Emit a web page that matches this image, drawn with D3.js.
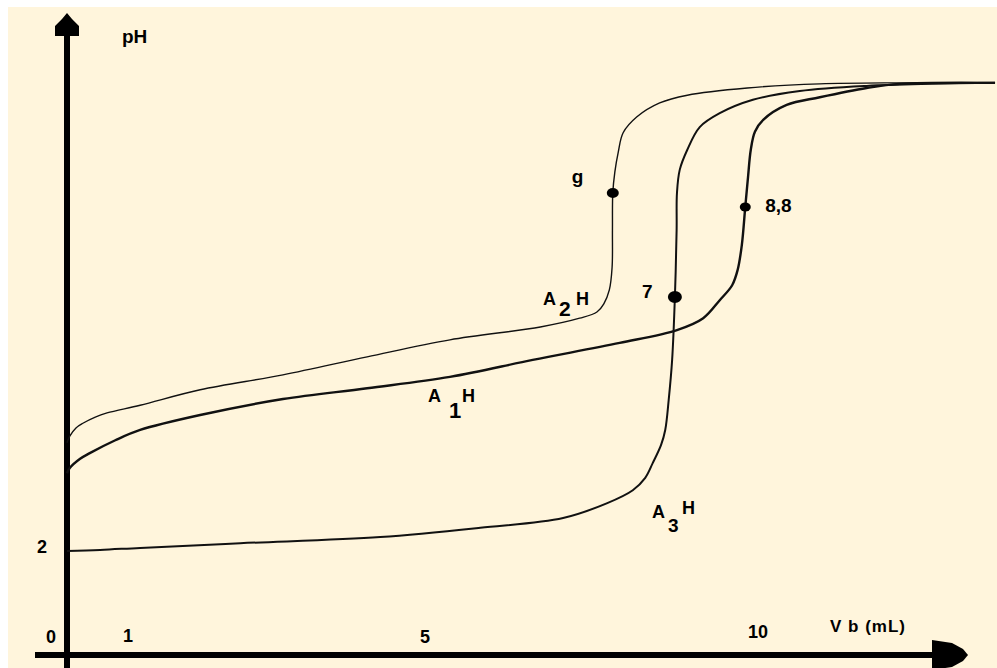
<!DOCTYPE html>
<html>
<head>
<meta charset="utf-8">
<script src="https://cdn.jsdelivr.net/npm/d3@7"></script>
<style>
    body { margin: 0; background: #ffffff; }
    text { font-family: "Liberation Sans", Arial, sans-serif; font-weight: bold; fill: #000; }
</style>
</head>
<body>
<script>
"use strict";

// courbes de dosage : volume de base (mL) et pH
var a2hVolume = [0.00, 0.04, 0.13, 0.23, 0.41, 0.58, 1.06, 1.93, 3.13, 4.35, 5.55, 6.86, 7.43, 7.68, 7.78, 7.86, 7.90, 7.905, 7.91, 7.94, 7.99, 8.06, 8.26, 8.59, 8.99, 9.86, 10.91, 12.07, 13.45];
var a2hPH     = [4.12, 4.25, 4.41, 4.50, 4.62, 4.70, 4.85, 5.15, 5.44, 5.79, 6.12, 6.37, 6.54, 6.66, 6.82, 7.09, 7.53, 8.25, 8.97, 9.38, 9.77, 10.14, 10.45, 10.72, 10.87, 11.01, 11.09, 11.11, 11.11];

var a1hVolume = [0.00, 0.04, 0.19, 0.33, 0.70, 1.06, 1.93, 3.13, 4.35, 5.55, 6.75, 8.01, 8.84, 9.22, 9.46, 9.64, 9.72, 9.78, 9.83, 9.87, 9.91, 9.97, 10.09, 10.43, 10.91, 11.59, 12.07, 13.45];
var a1hPH     = [3.53, 3.63, 3.81, 3.92, 4.17, 4.37, 4.66, 4.97, 5.18, 5.40, 5.73, 6.06, 6.31, 6.54, 6.89, 7.18, 7.48, 7.96, 8.70, 9.28, 9.81, 10.16, 10.39, 10.68, 10.83, 11.01, 11.09, 11.11];

var a3hVolume = [0.00, 0.48, 1.06, 2.51, 4.54, 5.99, 7.19, 7.83, 8.20, 8.38, 8.49, 8.61, 8.67, 8.72, 8.77, 8.81, 8.835, 8.84, 8.88, 8.99, 9.17, 9.46, 9.94, 10.62, 11.59, 12.51, 13.45];
var a3hPH     = [2.02, 2.04, 2.08, 2.17, 2.29, 2.47, 2.66, 2.95, 3.20, 3.44, 3.73, 4.08, 4.37, 4.95, 5.73, 6.95, 8.25, 8.97, 9.42, 9.81, 10.25, 10.52, 10.78, 10.95, 11.05, 11.09, 11.11];

// points d'equivalence
var eqVolume = [7.91, 8.81, 9.83];
var eqPH     = [8.97, 6.95, 8.70];
var eqLabel  = ["g", "7", "8,8"];

// graduations
var xTickValues = [0, 1, 5, 10];
var yTickValues = [2];

var widthEcran = 997, heightEcran = 668;

var canvas = d3.select("body")
    .append("svg")
    .attr("width", widthEcran)
    .attr("height", heightEcran);

canvas.append("rect")
    .attr("x", 8)
    .attr("y", 7)
    .attr("width", widthEcran - 8)
    .attr("height", heightEcran - 7)
    .attr("fill", "#fff5dc");

var x = d3.scaleLinear().domain([0, 10]).range([67, 757]);
var y = d3.scaleLinear().domain([0, 12]).range([655, 37]);

function toPoints(vol, ph) {
    return vol.map(function (v, i) { return [v, ph[i]]; });
}

var line = d3.line()
    .x(function (d) { return x(d[0]); })
    .y(function (d) { return y(d[1]); })
    .curve(d3.curveCatmullRom.alpha(0.5));

// axes
var x0 = x(0), y0 = y(0);
canvas.append("line")
    .attr("x1", x0).attr("x2", x0)
    .attr("y1", 30).attr("y2", heightEcran)
    .attr("stroke", "black").attr("stroke-width", 6);
canvas.append("polygon")
    .attr("points", [[x0, 13], [x0 + 5, 19], [x0 + 12, 26], [x0 + 12, 36], [x0 - 12, 36], [x0 - 12, 26], [x0 - 5, 19]].join(" "))
    .attr("fill", "black");

canvas.append("line")
    .attr("x1", 35).attr("x2", 935)
    .attr("y1", y0).attr("y2", y0)
    .attr("stroke", "black").attr("stroke-width", 6);
canvas.append("polygon")
    .attr("points", [[932, y0 - 15], [952, y0 - 12], [963, y0 - 6], [968, y0], [963, y0 + 6], [952, y0 + 12], [932, y0 + 15]].join(" "))
    .attr("fill", "black");

// curves
var curves = [
    {pts: toPoints(a2hVolume, a2hPH), w: 1.4},
    {pts: toPoints(a1hVolume, a1hPH), w: 2.4},
    {pts: toPoints(a3hVolume, a3hPH), w: 2}
];
curves.forEach(function (c) {
    canvas.append("path")
        .attr("d", line(c.pts))
        .attr("fill", "none")
        .attr("stroke", "#111")
        .attr("stroke-width", c.w)
        .attr("stroke-linejoin", "round");
});

// equivalence dots and labels
var eqRadius = [5, 6, 4.5];
var eqDx = [-41, -33, 20];
var eqDy = [-10, 1, 5];
eqVolume.forEach(function (v, i) {
    canvas.append("ellipse")
        .attr("cx", x(v)).attr("cy", y(eqPH[i]))
        .attr("rx", eqRadius[i] + 1).attr("ry", eqRadius[i])
        .attr("fill", "black");
    canvas.append("text")
        .attr("x", x(v) + eqDx[i])
        .attr("y", y(eqPH[i]) + eqDy[i])
        .attr("font-size", "19px")
        .text(eqLabel[i]);
});

// tick labels
var xTickNudge = {0: -16, 1: -8, 5: 13, 10: 1};
var xTickBase = {0: 643, 1: 642, 5: 643, 10: 638};
xTickValues.forEach(function (t) {
    canvas.append("text")
        .attr("x", x(t) + xTickNudge[t])
        .attr("y", xTickBase[t])
        .attr("text-anchor", "middle")
        .attr("font-size", "18px")
        .text(t);
});
yTickValues.forEach(function (t) {
    canvas.append("text")
        .attr("x", 42)
        .attr("y", y(t) + 1)
        .attr("text-anchor", "middle")
        .attr("font-size", "18px")
        .text(t);
});

canvas.append("text")
    .attr("x", 122).attr("y", 43)
    .attr("font-size", "19px")
    .text("pH");
canvas.append("text")
    .attr("x", 830).attr("y", 632)
    .attr("font-size", "17px")
    .attr("letter-spacing", "1px")
    .text("V b (mL)");

// curve names with subscripts
function curveName(ax, ay, sub, sx, sy, subSize, hx, hy) {
    canvas.append("text").attr("x", ax).attr("y", ay).attr("font-size", "18px").text("A");
    canvas.append("text").attr("x", sx).attr("y", sy).attr("font-size", subSize).text(sub);
    canvas.append("text").attr("x", hx).attr("y", hy).attr("font-size", "18px").text("H");
}
curveName(543, 305, "2", 559, 316, "21px", 576, 305);
curveName(428, 402, "1", 449, 418, "22px", 462, 402);
curveName(652, 518, "3", 668, 532, "19px", 682, 514);
</script>
</body>
</html>
